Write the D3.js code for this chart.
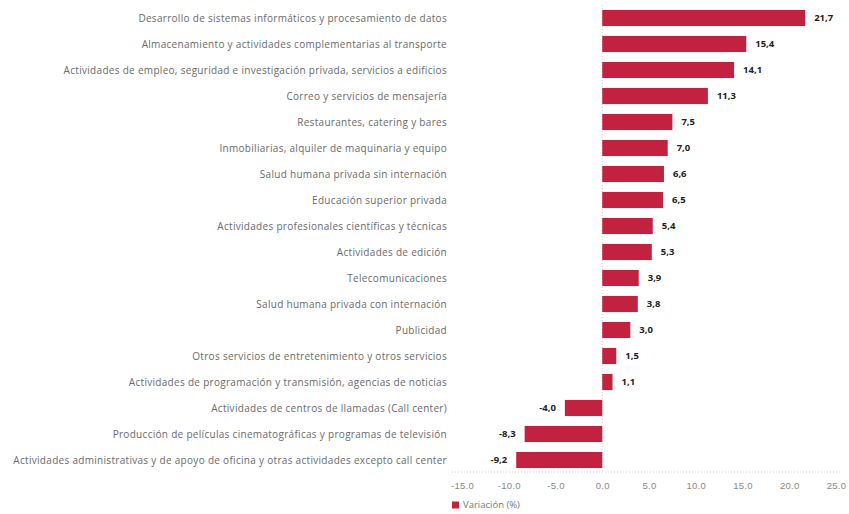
<!DOCTYPE html>
<html>
<head>
<meta charset="utf-8">
<script src="https://cdn.jsdelivr.net/npm/d3@7"></script>
<style>
  body { margin: 0; background: #fff; }
  svg { font-family: "Open Sans", sans-serif; }
</style>
</head>
<body>
<script>
const categories = [
  'Desarrollo de sistemas informáticos y procesamiento de datos',
  'Almacenamiento y actividades complementarias al transporte',
  'Actividades de empleo, seguridad e investigación privada, servicios a edificios',
  'Correo y servicios de mensajería',
  'Restaurantes, catering y bares',
  'Inmobiliarias, alquiler de maquinaria y equipo',
  'Salud humana privada sin internación',
  'Educación superior privada',
  'Actividades profesionales científicas y técnicas',
  'Actividades de edición',
  'Telecomunicaciones',
  'Salud humana privada con internación',
  'Publicidad',
  'Otros servicios de entretenimiento y otros servicios',
  'Actividades de programación y transmisión,  agencias de noticias',
  'Actividades de centros de llamadas (Call center)',
  'Producción de películas cinematográficas y programas de televisión',
  'Actividades administrativas y de apoyo de oficina y otras actividades excepto call center'
];
const variacion = [21.7, 15.4, 14.1, 11.3, 7.5, 7.0, 6.6, 6.5, 5.4, 5.3, 3.9, 3.8, 3.0, 1.5, 1.1, -4.0, -8.3, -9.2];
const xTicks = [-15, -10, -5, 0, 5, 10, 15, 20, 25];
const seriesName = 'Variación (%)';

const width = 849, height = 514;
const color = '#c2213f';
const svg = d3.select('body').append('svg').attr('width', width).attr('height', height);

const x = d3.scaleLinear().domain([-15, 25]).range([462, 836]);
const y = d3.scaleBand().domain(categories).range([5, 473]).paddingInner(0.38).paddingOuter(0.19);

// linea del cero
svg.append('line')
  .attr('x1', x(0)).attr('x2', x(0)).attr('y1', 5).attr('y2', 472)
  .attr('stroke', '#ccc').attr('stroke-dasharray', '1,2');

// eje inferior
const xAxis = d3.axisBottom(x).tickValues(xTicks)
  .tickFormat(d => d3.format('.1f')(d).replace('−', '-'))
  .tickSize(0).tickPadding(10);
const gx = svg.append('g').attr('transform', 'translate(0,472)').call(xAxis);
gx.select('.domain').attr('stroke', '#ccc').attr('stroke-dasharray', '1,2').attr('d', 'M452,0H842');
gx.selectAll('text').attr('fill', '#888').attr('font-size', 9.5).attr('letter-spacing', 0.3);

// etiquetas de categoria
svg.append('g').selectAll('text').data(categories).join('text')
  .attr('x', 447)
  .attr('y', d => y(d) + y.bandwidth() / 2)
  .attr('dy', '0.35em')
  .attr('text-anchor', 'end')
  .attr('font-size', 10)
  .attr('letter-spacing', 0.3)
  .attr('fill', '#6a6a6a')
  .text(d => d);

// barras
svg.append('g').selectAll('rect').data(variacion).join('rect')
  .attr('x', d => x(Math.min(0, d)))
  .attr('y', (d, i) => y(categories[i]))
  .attr('width', d => Math.abs(x(d) - x(0)))
  .attr('height', y.bandwidth())
  .attr('fill', color);

// valores
const fmt = d => d3.format('.1f')(d).replace('.', ',').replace('−', '-');
svg.append('g').selectAll('text').data(variacion).join('text')
  .attr('x', d => d >= 0 ? x(d) + 9 : x(d) - 9)
  .attr('y', (d, i) => y(categories[i]) + y.bandwidth() / 2)
  .attr('dy', '0.35em')
  .attr('text-anchor', d => d >= 0 ? 'start' : 'end')
  .attr('font-size', 9.5)
  .attr('font-weight', 'bold')
  .attr('fill', '#222')
  .text(fmt);

// leyenda
const lg = svg.append('g').attr('transform', 'translate(452,505)');
lg.append('rect').attr('width', 7).attr('height', 7).attr('y', -3.5).attr('fill', color);
lg.append('text').attr('x', 11).attr('dy', '0.35em').attr('font-size', 9.5).attr('fill', '#777').text(seriesName);
</script>
</body>
</html>
